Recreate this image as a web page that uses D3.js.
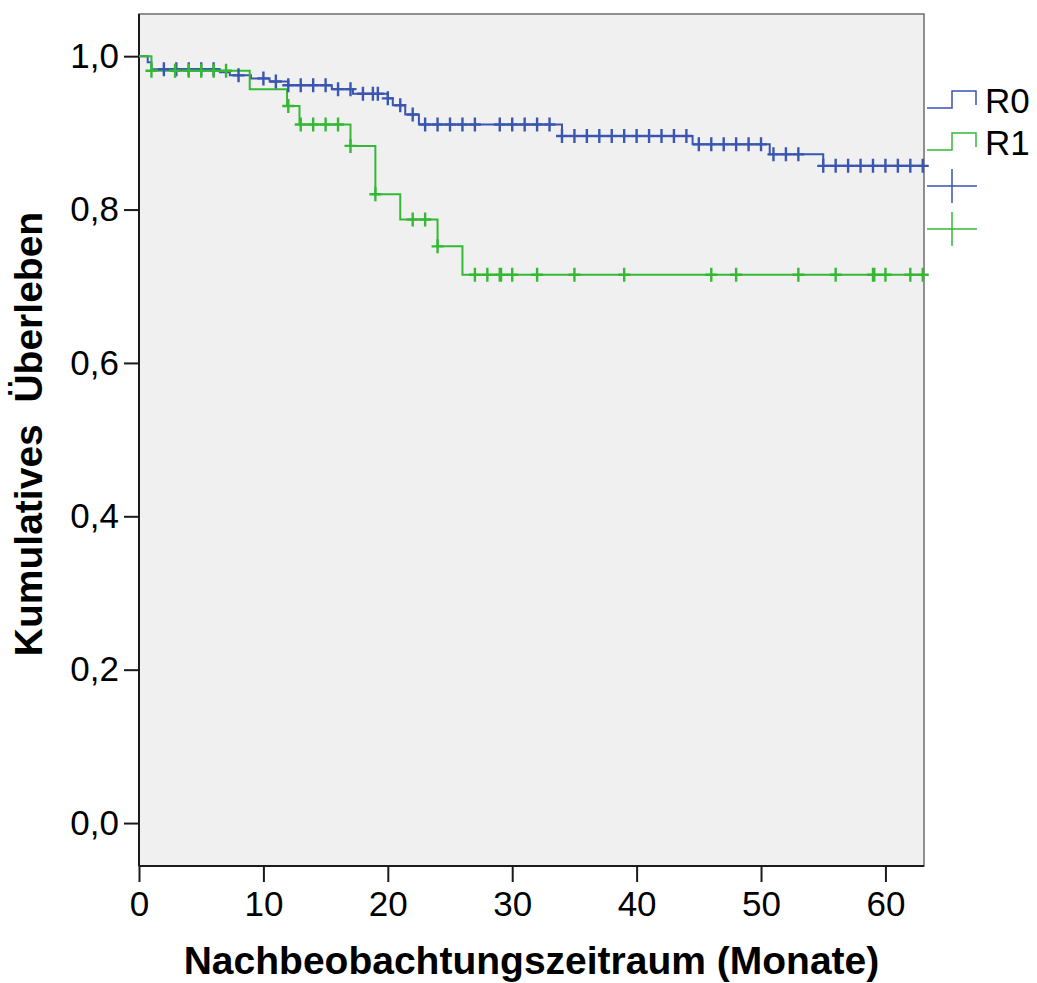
<!DOCTYPE html>
<html>
<head>
<meta charset="utf-8">
<script src="https://cdn.jsdelivr.net/npm/d3@7"></script>
<style>
  body { margin: 0; background: #fff; }
  svg { display: block; font-family: Arial, "Liberation Sans", sans-serif; }
</style>
</head>
<body>
<svg id="chart" width="1037" height="983"></svg>
<script>
// Kaplan-Meier steps (months, cumulative survival)
const r0Times = [0.7, 1.0, 6.5, 7.3, 9.0, 10.5, 12.0, 15.5, 17.2, 20.0, 20.4, 21.4, 22.5, 34.0, 44.5, 50.7, 55.0];
const r0Surv  = [0.992, 0.983, 0.979, 0.975, 0.971, 0.967, 0.962, 0.957, 0.951, 0.945, 0.936, 0.924, 0.911, 0.896, 0.885, 0.872, 0.857];
const r0Censored = [2, 3, 4, 5, 6, 8, 10, 11, 12, 13, 14, 15, 16, 17, 18, 18.8, 19.2, 20, 21, 22, 23, 24,
  25, 26, 27, 29, 30, 31, 32, 33, 34, 35, 36, 37, 38, 39, 40, 41, 42, 43, 44, 45, 46, 47, 48, 49, 50,
  51, 52, 53, 55, 56, 57, 58, 59, 60, 61, 62, 63];

const r1Times = [1.0, 8.9, 11.9, 12.9, 17.0, 19.0, 21.0, 24.0, 26.0];
const r1Surv  = [0.981, 0.957, 0.935, 0.911, 0.883, 0.820, 0.787, 0.752, 0.715];
const r1Censored = [1, 2.9, 4, 5, 6, 7, 12, 13, 14, 15, 16, 17, 19, 22, 23, 24, 27, 28, 29, 29.1, 30,
  32, 35, 39, 46, 48, 53, 56, 59, 59.1, 60, 62, 63];

const groups = ['R0', 'R1'];
const xTicks = [0, 10, 20, 30, 40, 50, 60];
const yTicks = [0, 0.2, 0.4, 0.6, 0.8, 1.0];
const endTime = 63;

const colors = { R0: '#3a56b0', R1: '#35b935' };

const svg = d3.select('#chart');
const padLeft = 139, padRight = 924, padTop = 14, padBottom = 866;

const x = d3.scaleLinear().domain([0, 63.1]).range([padLeft, padRight]);
const y = d3.scaleLinear().domain([-0.056, 1.055]).range([padBottom, padTop]);

// plot background
svg.append('rect')
  .attr('x', padLeft).attr('y', padTop)
  .attr('width', padRight - padLeft).attr('height', padBottom - padTop)
  .attr('fill', '#f0f0f0')
  .attr('stroke', '#6e6e6e')
  .attr('stroke-width', 1.5);

const fmt = d => d3.format('.1f')(d).replace('.', ',');

// axes
const yAxis = svg.append('g')
  .attr('transform', `translate(${padLeft},0)`)
  .call(d3.axisLeft(y).tickValues(yTicks).tickFormat(fmt).tickSize(15).tickPadding(5));
const xAxis = svg.append('g')
  .attr('transform', `translate(0,${padBottom})`)
  .call(d3.axisBottom(x).tickValues(xTicks).tickFormat(d3.format('d')).tickSize(16).tickPadding(9));

[xAxis, yAxis].forEach(a => {
  a.select('.domain').attr('stroke', '#1a1a1a').attr('stroke-width', 2);
  a.selectAll('.tick line').attr('stroke', '#1a1a1a').attr('stroke-width', 2);
  a.selectAll('.tick text')
    .attr('fill', '#000')
    .style('font-size', '35px')
    .style('font-family', 'Arial, "Liberation Sans", sans-serif');
});
yAxis.select('.domain').attr('d', `M0,${padTop}V${padBottom}`);
xAxis.select('.domain').attr('d', `M${padLeft},0H${padRight}`);

// step curves
function series(times, surv) {
  const pts = [[0, 1]];
  times.forEach((t, i) => pts.push([t, surv[i]]));
  pts.push([endTime, surv[surv.length - 1]]);
  return pts;
}
function survAt(times, surv, t) {
  let s = 1;
  times.forEach((tt, i) => { if (t >= tt) s = surv[i]; });
  return s;
}

const line = d3.line().x(d => x(d[0])).y(d => y(d[1])).curve(d3.curveStepAfter);

const data = [
  { key: 'R0', pts: series(r0Times, r0Surv), cens: r0Censored.map(t => [t, survAt(r0Times, r0Surv, t)]) },
  { key: 'R1', pts: series(r1Times, r1Surv), cens: r1Censored.map(t => [t, survAt(r1Times, r1Surv, t)]) }
];

const plot = svg.append('g');

plot.selectAll('.km').data(data)
  .join('path')
  .attr('class', 'km')
  .attr('d', d => line(d.pts))
  .attr('fill', 'none')
  .attr('stroke', d => colors[d.key])
  .attr('stroke-width', 2);

const cross = (cx, cy, h, v) => `M${cx - h},${cy}H${cx + h}M${cx},${cy - v}V${cy + v}`;

plot.selectAll('.cens').data(data)
  .join('path')
  .attr('class', 'cens')
  .attr('d', d => d.cens.map(c => cross(x(c[0]), y(c[1]), 6, 7)).join(''))
  .attr('fill', 'none')
  .attr('stroke', d => colors[d.key])
  .attr('stroke-width', 2.4);

// legend
const lg = svg.append('g').attr('transform', 'translate(927,0)');
const rowY = [108, 150];
groups.forEach((g, i) => {
  const yb = rowY[i];
  lg.append('path')
    .attr('d', `M0,${yb}H25V${yb - 17}H49V${yb - 3}`)
    .attr('fill', 'none')
    .attr('stroke', colors[g])
    .attr('stroke-width', 1.5);
  lg.append('text')
    .attr('x', 58).attr('y', yb + 5)
    .style('font-size', '35px')
    .text(g);
});
[186, 229].forEach((cy, i) => {
  lg.append('path')
    .attr('d', cross(25, cy, 25, 17))
    .attr('fill', 'none')
    .attr('stroke', colors[groups[i]])
    .attr('stroke-width', 1.5);
});

// axis titles
svg.append('text')
  .attr('x', (padLeft + padRight) / 2)
  .attr('y', 974)
  .attr('text-anchor', 'middle')
  .style('font-size', '39px')
  .style('font-weight', 'bold')
  .text('Nachbeobachtungszeitraum (Monate)');

svg.append('text')
  .attr('transform', `translate(42,434) rotate(-90)`)
  .attr('text-anchor', 'middle')
  .style('font-size', '39px')
  .style('font-weight', 'bold')
  .style('white-space', 'pre')
  .text('Kumulatives  Überleben');
</script>
</body>
</html>
